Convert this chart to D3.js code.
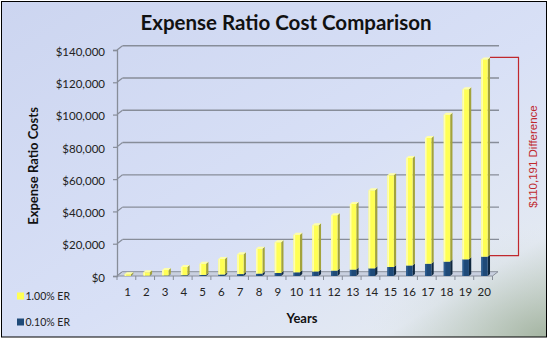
<!DOCTYPE html>
<html>
<head>
<meta charset="utf-8">
<script src="https://cdn.jsdelivr.net/npm/d3@7"></script>
<style>
  html, body { margin: 0; padding: 0; background: #ffffff; }
  svg { display: block; }
</style>
</head>
<body>
<svg id="chart" width="548" height="342"></svg>
<script>
// Cumulative expense-ratio cost per year, stacked: 0.10% ER at the bottom, 1.00% ER on top
const years = d3.range(1, 21).map(String);
const costLowER = [100, 205, 330, 500, 680, 940, 1200, 1510, 1870, 2290,
                   2810, 3360, 3990, 4750, 5580, 6540, 7640, 8930, 10340, 12000];
const costHighER = [1000, 2085, 3390, 5080, 6940, 9590, 12240, 15400, 19010, 23300,
                    28600, 34240, 40610, 48340, 56800, 66560, 77850, 91000, 105320, 122191];
const yTicks = [0, 20000, 40000, 60000, 80000, 100000, 120000, 140000];
const seriesNames = ["1.00% ER", "0.10% ER"];

const svg = d3.select("#chart");
const W = 548, H = 342;

// Background panel
const defs = svg.append("defs");
const bg = defs.append("linearGradient").attr("id", "bgGrad")
  .attr("x1", "0").attr("y1", "0").attr("x2", "1").attr("y2", "1");
bg.append("stop").attr("offset", "0%").attr("stop-color", "#ccd5f0");
bg.append("stop").attr("offset", "55%").attr("stop-color", "#d8e0f6");
bg.append("stop").attr("offset", "85%").attr("stop-color", "#e3e9f2");
bg.append("stop").attr("offset", "100%").attr("stop-color", "#b9c6b6");
const corner = defs.append("radialGradient").attr("id", "cornerGrad")
  .attr("cx", "1").attr("cy", "1").attr("r", "0.35");
corner.append("stop").attr("offset", "0%").attr("stop-color", "#9fb09c").attr("stop-opacity", 0.8);
corner.append("stop").attr("offset", "100%").attr("stop-color", "#e6ecf2").attr("stop-opacity", 0);

svg.append("rect").attr("x", 1.5).attr("y", 1.5).attr("width", 545).attr("height", 335.5)
  .attr("fill", "url(#bgGrad)");
svg.append("rect").attr("x", 1.5).attr("y", 1.5).attr("width", 545).attr("height", 335.5)
  .attr("fill", "url(#cornerGrad)");
svg.append("rect").attr("x", 1.5).attr("y", 1.5).attr("width", 545).attr("height", 335.5)
  .attr("fill", "none").attr("stroke", "#000").attr("stroke-width", 1);

// Plot geometry (front plane) and depth offset for the 3-D back wall
const x0 = 117, x1 = 492.5, yBottom = 276, yTop = 50;
const depthX = 5.5, depthY = -4.3;

const x = d3.scaleBand().domain(years).range([x0, x1]).paddingInner(0).paddingOuter(0);
const y = d3.scaleLinear().domain([0, 140000]).range([yBottom, yTop]);

const font = "Lato, 'Open Sans', sans-serif";

// Title
svg.append("text").attr("x", 286).attr("y", 30)
  .attr("text-anchor", "middle")
  .attr("font-family", font).attr("font-weight", "bold").attr("font-size", 20.5)
  .attr("fill", "#111").text("Expense Ratio Cost Comparison");

// Back-wall gridlines with the slanted joins to the front axis
const grid = svg.append("g");
yTicks.forEach(v => {
  const yy = y(v);
  if (v > 0) {
    grid.append("line")
      .attr("x1", x0 + depthX).attr("x2", x1 + depthX + 1)
      .attr("y1", yy + depthY).attr("y2", yy + depthY)
      .attr("stroke", "#878d99").attr("stroke-width", 1.4);
  }
  grid.append("line")
    .attr("x1", x0).attr("y1", yy).attr("x2", x0 + depthX).attr("y2", yy + depthY)
    .attr("stroke", "#878d99").attr("stroke-width", 1.2);
});

// Floor (thin 3-D plate)
const floor = d3.path();
floor.moveTo(x0, yBottom);
floor.lineTo(x1, yBottom);
floor.lineTo(x1 + depthX, yBottom + depthY);
floor.lineTo(x0 + depthX, yBottom + depthY);
floor.closePath();
svg.append("path").attr("d", floor.toString())
  .attr("fill", "#c9d0e0").attr("stroke", "#8a909c").attr("stroke-width", 1);

// Y axis (front)
const yAxis = d3.axisLeft(y).tickValues(yTicks).tickSize(4).tickPadding(8)
  .tickFormat(d3.format("$,"));
const gy = svg.append("g").attr("transform", `translate(${x0},0)`).call(yAxis);
gy.select(".domain").attr("stroke", "#878d99").attr("stroke-width", 1.3);
gy.selectAll(".tick line").attr("stroke", "#878d99").attr("stroke-width", 1.2);
gy.selectAll(".tick text").attr("font-family", font).attr("font-size", 11.5)
  .attr("fill", "#222").attr("dy", "0.45em");

// X axis (front floor edge)
const xAxis = d3.axisBottom(x).tickSize(0).tickPadding(12);
const gx = svg.append("g").attr("transform", `translate(0,${yBottom})`).call(xAxis);
gx.select(".domain").remove();
gx.selectAll(".tick text").attr("font-family", font).attr("font-size", 11.5)
  .attr("fill", "#222").attr("dx", "0.1em");
// boundary ticks between categories
svg.append("g").selectAll("line").data(d3.range(0, 21)).join("line")
  .attr("x1", i => x0 + i * x.step()).attr("x2", i => x0 + i * x.step())
  .attr("y1", yBottom).attr("y2", yBottom + 4)
  .attr("stroke", "#878d99").attr("stroke-width", 1);

// 3-D stacked columns
const barW = 6.4, sideW = 2.3, sideH = 2.0, barShift = 1.4;
const stacked = years.map((yr, i) => ({
  year: yr,
  segments: [
    { key: "low", y0: 0, y1: costLowER[i] },
    { key: "high", y0: costLowER[i], y1: costLowER[i] + costHighER[i] }
  ]
}));
const colors = {
  low:  { front: "#1f4a78", light: "#2d5d90", side: "#10283f", top: "#3a6aa0" },
  high: { front: "#ffff55", light: "#ffffb0", side: "#a3a33c", top: "#ffffa8" }
};

const bars = svg.append("g");
stacked.forEach(col => {
  const cx = x(col.year) + x.bandwidth() / 2 + barShift;
  const left = cx - barW / 2, right = cx + barW / 2;
  col.segments.forEach((s, si) => {
    const c = colors[s.key];
    const yb = y(s.y0), yt = y(s.y1);
    // side face
    bars.append("path")
      .attr("d", `M${right},${yb} L${right + sideW},${yb - sideH} L${right + sideW},${yt - sideH} L${right},${yt} Z`)
      .attr("fill", c.side);
    // front face
    bars.append("rect").attr("x", left).attr("y", yt)
      .attr("width", barW).attr("height", Math.max(0, yb - yt)).attr("fill", c.front);
    // highlight strip on the left of the front face
    bars.append("rect").attr("x", left).attr("y", yt)
      .attr("width", 1.6).attr("height", Math.max(0, yb - yt)).attr("fill", c.light);
    // top face on the upper segment
    if (si === col.segments.length - 1) {
      bars.append("path")
        .attr("d", `M${left},${yt} L${left + sideW},${yt - sideH} L${right + sideW},${yt - sideH} L${right},${yt} Z`)
        .attr("fill", c.top);
    }
  });
});

// Difference bracket on the last year
const lastI = years.length - 1;
const lastYear = years[lastI];
const diff = costHighER[lastI] - costLowER[lastI];
const bx0 = x(lastYear) + x.bandwidth() / 2 + barShift + barW / 2 + sideW;
const bx1 = 518.5;
const byTop = y(costLowER[lastI] + costHighER[lastI]) - sideH;
const byBot = y(costLowER[lastI]) - 1;
svg.append("path")
  .attr("d", `M${bx0},${byTop} H${bx1} V${byBot} H${bx0}`)
  .attr("fill", "none").attr("stroke", "#c0282d").attr("stroke-width", 1.2);
svg.append("text")
  .attr("transform", `translate(533,${(byTop + byBot) / 2}) rotate(-90)`)
  .attr("text-anchor", "middle").attr("dy", "0.35em")
  .attr("font-family", "'Liberation Sans Narrow', 'Liberation Sans', Arial, sans-serif")
  .attr("font-size", 11.5).attr("fill", "#c0282d")
  .text(`${d3.format("$,")(diff)} Difference`);

// Axis titles
svg.append("text")
  .attr("transform", "translate(38,166) rotate(-90)")
  .attr("text-anchor", "middle")
  .attr("font-family", font).attr("font-weight", "bold").attr("font-size", 13)
  .attr("fill", "#111").text("Expense Ratio Costs");
svg.append("text").attr("x", 302).attr("y", 323)
  .attr("text-anchor", "middle")
  .attr("font-family", font).attr("font-weight", "bold").attr("font-size", 13)
  .attr("fill", "#111").text("Years");

// Legend
const legendColors = [colors.high.front, colors.low.front];
const legend = svg.append("g");
seriesNames.forEach((name, i) => {
  const ly = 296 + i * 26;
  legend.append("rect").attr("x", 17).attr("y", ly - 3.5)
    .attr("width", 7).attr("height", 7).attr("fill", legendColors[i]);
  legend.append("text").attr("x", 25.5).attr("y", ly).attr("dy", "0.36em")
    .attr("font-family", font).attr("font-size", 10.5).attr("fill", "#222")
    .text(name);
});
</script>
</body>
</html>
